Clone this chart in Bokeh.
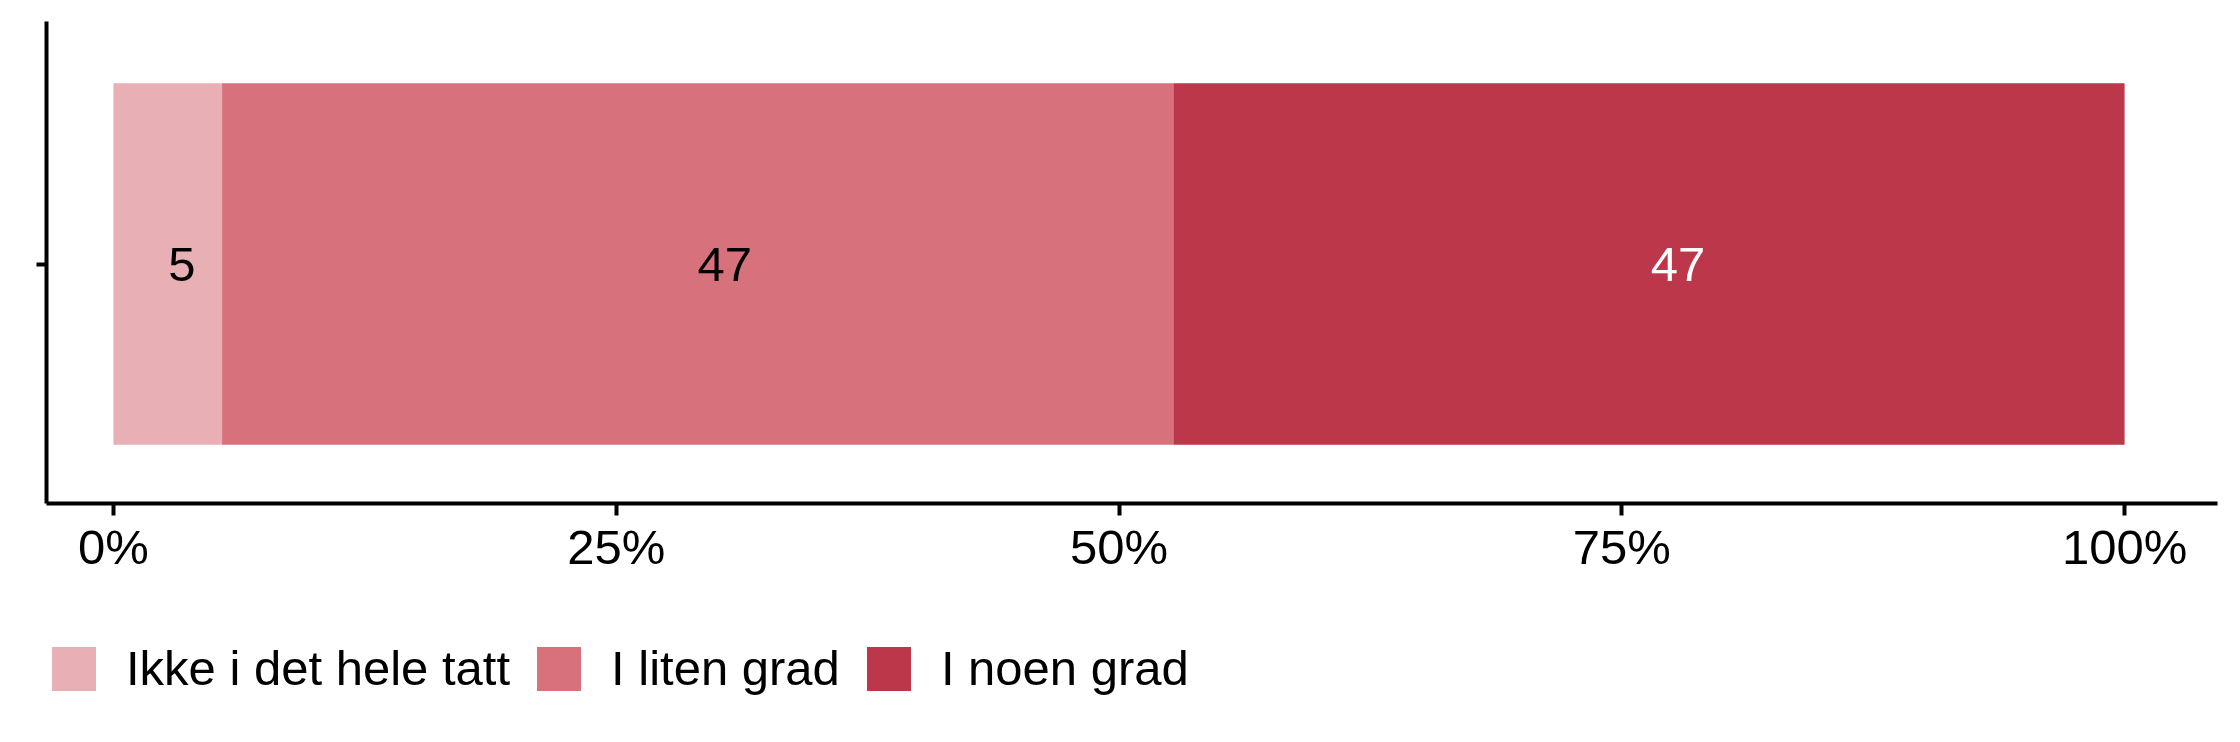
from bokeh.plotting import figure
from bokeh.layouts import column
from bokeh.models import ColumnDataSource, Range1d, FixedTicker, Legend, LegendItem
from bokeh.core.properties import value
from bokeh.embed import file_html
from bokeh.resources import INLINE

# ---- data ----
categories = ["Ikke i det hele tatt", "I liten grad", "I noen grad"]
percent = [5.4, 47.3, 47.3]
labels = ["5", "47", "47"]
colors = ["#E8B0B5", "#D7727C", "#BC3749"]
label_colors = ["black", "black", "white"]
label_nudge_px = [14, 27, 29]
tick_values = [0, 25, 50, 75, 100]
tick_labels = ["0%", "25%", "50%", "75%", "100%"]

FONT = "Liberation Sans"

lefts, rights, mids = [], [], []
acc = 0.0
for v in percent:
    lefts.append(acc)
    rights.append(acc + v)
    mids.append(acc + v / 2)
    acc += v

src = ColumnDataSource(dict(cat=categories, left=lefts, right=rights, mid=mids,
                            y=[1] * len(categories), color=colors, label=labels,
                            tcolor=label_colors, nudge=label_nudge_px))

p = figure(width=2240, height=620, output_backend="svg",
           toolbar_location=None, x_range=Range1d(-3.33, 104.62),
           y_range=Range1d(0.404, 1.604),
           min_border_left=46, min_border_top=21, min_border_right=23,
           min_border_bottom=117)
p.outline_line_color = None
p.xgrid.visible = False
p.ygrid.visible = False
p.background_fill_color = "white"

for i in range(len(categories)):
    p.hbar(y=1, left=lefts[i], right=rights[i], height=0.9,
           fill_color=colors[i], line_color=None)

p.text(x="mid", y="y", text="label", source=src, text_color="tcolor",
       x_offset="nudge", text_align="center", text_baseline="middle",
       text_font=value(FONT), text_font_size="49px")

# x axis
xa = p.xaxis[0]
xa.ticker = FixedTicker(ticks=tick_values)
xa.major_label_overrides = {v: l for v, l in zip(tick_values, tick_labels)}
xa.major_label_text_font = FONT
xa.major_label_text_font_size = "49px"
xa.major_label_text_color = "black"
xa.major_label_standoff = 4
xa.major_tick_out = 12
xa.major_tick_in = 0
xa.minor_tick_out = 0
xa.minor_tick_in = 0
xa.axis_line_width = 4
xa.major_tick_line_width = 4
xa.axis_line_color = "black"

# y axis
ya = p.yaxis[0]
ya.ticker = FixedTicker(ticks=[1])
ya.major_label_overrides = {1: ""}
ya.major_label_text_font_size = "0px"
ya.major_tick_out = 10
ya.major_tick_in = 0
ya.minor_tick_out = 0
ya.minor_tick_in = 0
ya.axis_line_width = 4
ya.major_tick_line_width = 4
ya.axis_line_color = "black"

# legend strip (separate figure, same colours; its bars have zero width, far outside its view)
pl = figure(width=2240, height=122, output_backend="svg", toolbar_location=None,
            x_range=Range1d(0, 1), y_range=Range1d(0, 1),
            x_axis_location=None, y_axis_location=None,
            min_border_left=0, min_border_right=0, min_border_top=0,
            min_border_bottom=0)
pl.outline_line_color = None
pl.xgrid.visible = False
pl.ygrid.visible = False
leg_renderers = [pl.hbar(y=[-100], left=[-100], right=[-100], height=0.9,
                         fill_color=colors[i], line_color=None)
                 for i in range(len(categories))]

legend = Legend(items=[LegendItem(label=categories[i], renderers=[leg_renderers[i]])
                       for i in range(len(categories))],
                orientation="horizontal", location=(0, 46),
                glyph_width=55, glyph_height=55, label_height=55,
                label_text_font=FONT, label_text_font_size="49px",
                label_text_color="black",
                label_standoff=25, spacing=21, padding=0, margin=0,
                border_line_color=None, background_fill_alpha=0)
pl.add_layout(legend, "center")

layout = column(p, pl, spacing=0)
open("out.html", "w").write(file_html(layout, INLINE))
